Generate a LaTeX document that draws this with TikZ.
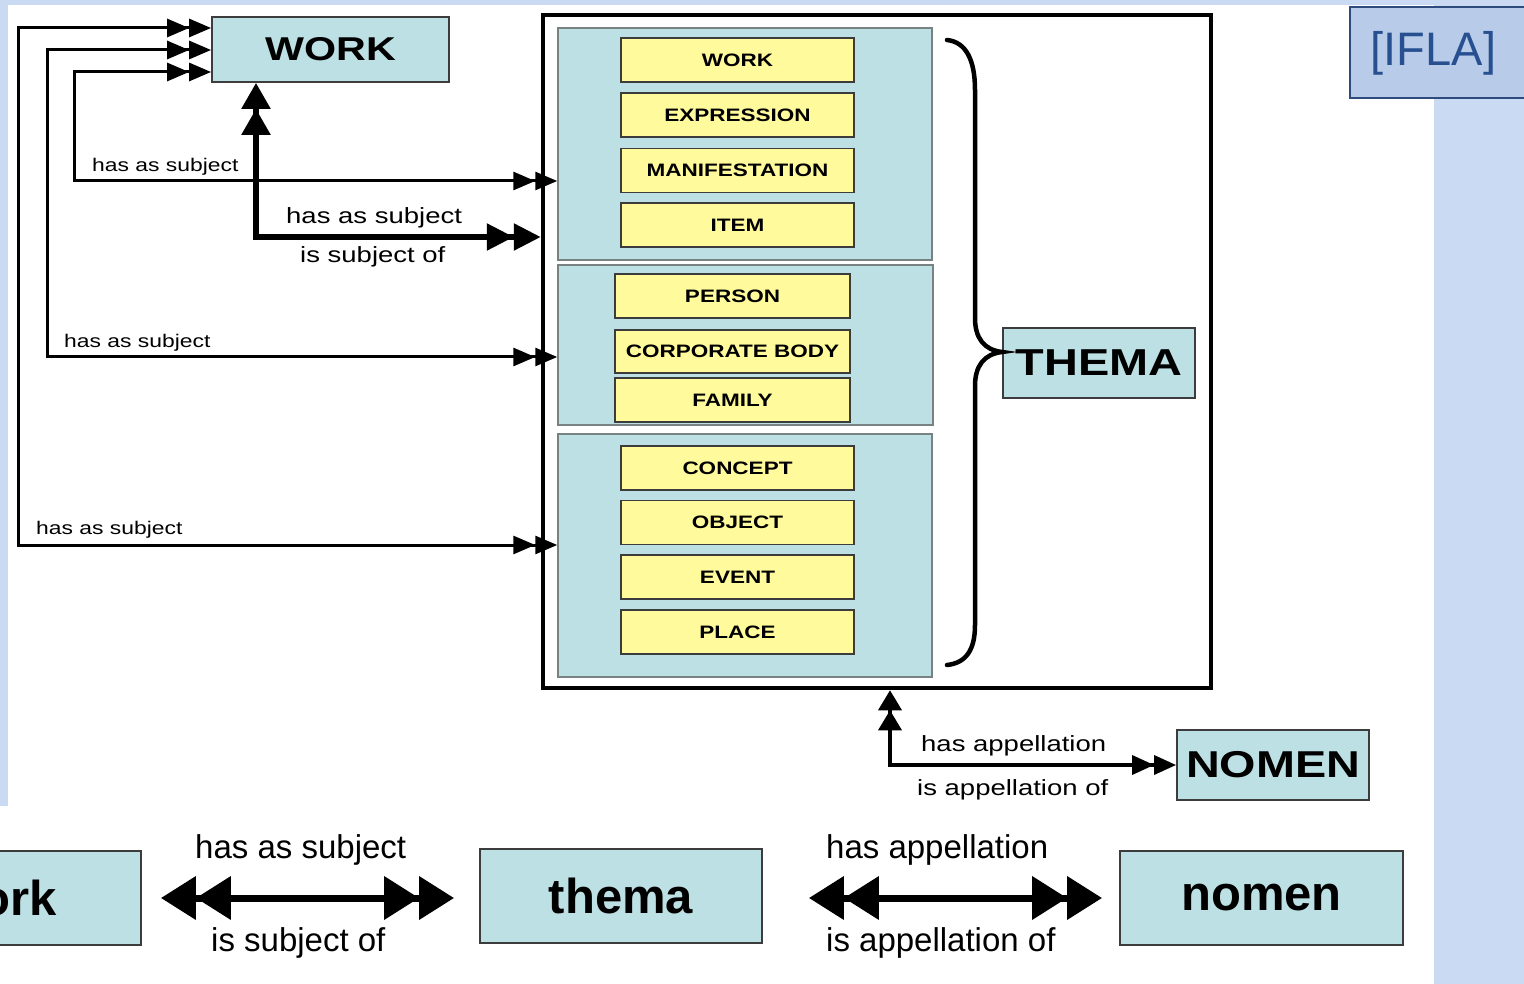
\documentclass[tikz,border=0pt]{standalone}
\usepackage{fontspec}
\setmainfont{Liberation Sans}
\newfontfamily\dfont[FakeStretch=1.25]{Liberation Sans}
\usetikzlibrary{arrows.meta}
\definecolor{bgblue}{RGB}{201,218,242}
\definecolor{boxcyan}{RGB}{188,224,228}
\definecolor{boxyellow}{RGB}{255,250,155}
\definecolor{iflafill}{RGB}{184,204,234}
\definecolor{ifladraw}{RGB}{45,75,125}
\definecolor{iflatext}{RGB}{40,80,145}
\definecolor{edgegray}{RGB}{60,60,60}
\definecolor{grpgray}{RGB}{120,130,130}
\begin{document}
\begin{tikzpicture}[x=1pt,y=-1pt,
  cyanbox/.style={draw=edgegray, line width=1.8pt, fill=boxcyan, inner sep=0pt},
  groupbox/.style={draw=grpgray, line width=1.5pt, fill=boxcyan, inner sep=0pt},
  ybox/.style={draw=edgegray, line width=1.5pt, fill=boxyellow, inner sep=0pt,
    minimum height=44pt, font=\dfont\bfseries\fontsize{18pt}{20pt}\selectfont},
  lab/.style={anchor=base west, inner sep=0pt},
  smalllab/.style={lab, font=\dfont\fontsize{18.3pt}{20pt}\selectfont},
  midlab/.style={lab, font=\dfont\fontsize{22pt}{24pt}\selectfont},
  botlab/.style={lab, font=\fontsize{33pt}{36pt}\selectfont},
  thinarr/.style={line width=3pt, arrows={{Triangle[length=22pt,width=18pt] Triangle[length=22pt,width=18pt]}-{Triangle[length=22pt,width=18pt] Triangle[length=22pt,width=18pt]}}},
  thickarr/.style={line width=5.5pt, arrows={{Triangle[length=26pt,width=28pt] Triangle[length=26pt,width=28pt]}-{Triangle[length=27pt,width=26pt] Triangle[length=27pt,width=26pt]}}},
  medarr/.style={line width=3.5pt, arrows={{Triangle[length=20pt,width=23pt] Triangle[length=20pt,width=23pt]}-{Triangle[length=22pt,width=19pt] Triangle[length=22pt,width=19pt]}}},
  bigarr/.style={line width=7pt, arrows={{Triangle[length=35pt,width=42pt] Triangle[length=35pt,width=42pt]}-{Triangle[length=35pt,width=42pt] Triangle[length=35pt,width=42pt]}}},
  bracestyle/.style={line width=4.5pt, line cap=round}
]
\useasboundingbox (0,0) rectangle (1524,984);
\clip (0,0) rectangle (1524,984);
% background
\fill[bgblue] (0,0) rectangle (1524,984);
\fill[white] (8,5) rectangle (1434,806);
\fill[white] (0,806) rectangle (1434,984);
% IFLA label
\fill[iflafill, draw=ifladraw, line width=1.5pt] (1350,7) rectangle (1530,98);
\node (ifla) at (1433.5,53) [inner sep=0pt, text=iflatext, font=\fontsize{47pt}{50pt}\selectfont] {[IFLA]};

% outer box and groups
\node (outer) at (877,351.5) [draw=black, line width=4.5pt, fill=white, minimum width=668pt, minimum height=673pt, inner sep=0pt] {};
\node (g1) at (745,144) [groupbox, minimum width=374pt, minimum height=232pt] {};
\node (g2) at (745.5,345) [groupbox, minimum width=375pt, minimum height=160pt] {};
\node (g3) at (745,555.5) [groupbox, minimum width=374pt, minimum height=243pt] {};

\node (ywork) at (737.5,60) [ybox, minimum width=233pt] {WORK};
\node (yexpr) at (737.5,115) [ybox, minimum width=233pt] {EXPRESSION};
\node (ymani) at (737.5,170.5) [ybox, minimum width=233pt] {MANIFESTATION};
\node (yitem) at (737.5,225) [ybox, minimum width=233pt] {ITEM};
\node (ypers) at (732.5,296) [ybox, minimum width=235pt] {PERSON};
\node (ycorp) at (732.5,351.5) [ybox, minimum width=235pt, minimum height=43pt] {CORPORATE BODY};
\node (yfam) at (732.5,400) [ybox, minimum width=235pt] {FAMILY};
\node (yconc) at (737.5,468) [ybox, minimum width=233pt] {CONCEPT};
\node (yobj) at (737.5,522.5) [ybox, minimum width=233pt] {OBJECT};
\node (yevent) at (737.5,577) [ybox, minimum width=233pt] {EVENT};
\node (yplace) at (737.5,632) [ybox, minimum width=233pt] {PLACE};

% THEMA and brace
\node (thema) at (1099,363) [cyanbox, minimum width=192pt, minimum height=70pt, font=\dfont\bfseries\fontsize{37.5pt}{40pt}\selectfont] {THEMA};
\draw[bracestyle] (947,40) .. controls (966,42) and (975,60) .. (975,90) -- (975,318)
  .. controls (975,338) and (984,350) .. (thema.west |- 0,352)
  .. controls (984,354) and (975,366) .. (975,386) -- (975,625)
  .. controls (975,650) and (966,663) .. (947,665);

% top WORK box
\node (wtop) at (330.5,49.5) [cyanbox, minimum width=237pt, minimum height=65pt, font=\dfont\bfseries\fontsize{33pt}{36pt}\selectfont] {WORK};

% NOMEN box
\node (nomen) at (1273,765) [cyanbox, minimum width=192pt, minimum height=70pt, font=\dfont\bfseries\fontsize{37.4pt}{40pt}\selectfont] {NOMEN};

% connectors
\coordinate (cA) at (18,545);
\coordinate (cB) at (47,357);
\coordinate (cC) at (74,181);
\draw[thinarr] (g3.west |- cA) -- (cA) |- (wtop.west |- 0,28);
\draw[thinarr] (g2.west |- cB) -- (cB) |- (wtop.west |- 0,50);
\draw[thinarr] (g1.west |- cC) -- (cC) |- (wtop.west |- 0,72);
\draw[thickarr, line join=miter] (wtop.south -| 256,0) -- (256,237) -- (outer.west |- 0,237);
\draw[medarr] (outer.south -| 890,0) -- (890,765) -- (nomen.west);

% labels
\node (lC) at (92,172) [smalllab] {has as subject};
\node (lB) at (64,348) [smalllab] {has as subject};
\node (lA) at (36,534) [smalllab] {has as subject};
\node (lD1) at (286,224) [midlab] {has as subject};
\node (lD2) at (300,263) [midlab] {is subject of};
\node (lN1) at (921,751) [midlab] {has appellation};
\node (lN2) at (917,795) [midlab] {is appellation of};

% bottom row
\node (bwork) at (0,898) [cyanbox, minimum width=282pt, minimum height=94pt, font=\bfseries\fontsize{49pt}{52pt}\selectfont] {work};
\node (bthema) at (621,896) [cyanbox, minimum width=282pt, minimum height=94pt, font=\bfseries\fontsize{49pt}{52pt}\selectfont] {thema};
\node (bnomen) at (1261.5,898) [cyanbox, minimum width=283pt, minimum height=94pt, font=\bfseries\fontsize{49pt}{52pt}\selectfont] {nomen};
\draw[bigarr] ([xshift=19pt]bwork.east) -- ([xshift=-25pt]bwork.east -| bthema.west);
\draw[bigarr] ([xshift=46pt]bwork.east -| bthema.east) -- ([xshift=-17pt]bwork.east -| bnomen.west);
\node (b1) at (195,858) [botlab] {has as subject};
\node (b2) at (211,951) [botlab] {is subject of};
\node (b3) at (826,858) [botlab] {has appellation};
\node (b4) at (826,951) [botlab] {is appellation of};
\end{tikzpicture}
\end{document}
